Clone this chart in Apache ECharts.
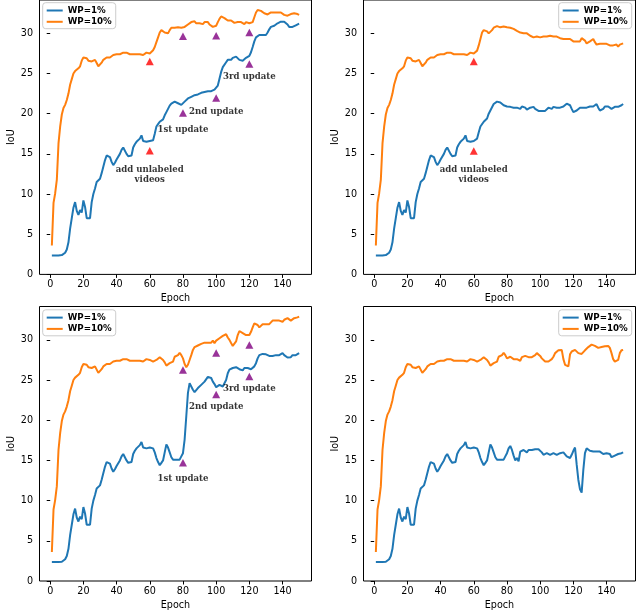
<!DOCTYPE html>
<html><head><meta charset="utf-8">
<script src="https://cdn.jsdelivr.net/npm/echarts@6/dist/echarts.min.js"></script>
<style>html,body{margin:0;padding:0;background:#fff}#c{width:640px;height:613px}</style>
</head><body><div id="c"></div>
<script>
const seriesNames = ['WP=1%', 'WP=10%'];
const xTicks = [0, 20, 40, 60, 80, 100, 120, 140];
const yTicks = [0, 5, 10, 15, 20, 25, 30];

// shared run, epochs 1..80
const blueBase = [2.35,2.35,2.35,2.35,2.35,2.35,2.4,2.5,2.7,3.1,
  4.0,5.7,7.0,8.3,9.0,7.9,7.4,8.0,7.7,9.2,
  8.4,7.0,6.9,7.0,9.0,10.0,10.7,11.5,11.3,11.9,
  12.6,12.7,14.2,14.8,14.8,14.6,14.0,13.6,13.9,14.3,
  14.5,15.0,15.5,15.8,15.7,15.0,14.7,14.6,14.8,15.8,
  16.2,16.5,16.6,16.9,17.3,16.6,16.7,16.5,16.4,16.6,
  16.7,16.5,16.0,15.3,14.8,14.4,14.7,15.0,16.0,17.0,
  16.6,16.0,15.4,15.1,15.0,15.1,14.9,15.1,15.5,15.9];
const orangeBase = [3.6,8.9,10.1,11.8,16.3,18.4,19.9,20.7,21.1,21.7,
  22.5,23.6,24.3,25.0,25.3,25.5,25.65,25.9,26.6,27.0,
  27.1,26.9,26.6,26.4,26.5,26.5,26.7,26.3,25.9,26.0,
  26.35,26.7,26.9,27.0,27.1,27.0,27.2,27.3,27.2,27.4,
  27.2,27.4,27.5,27.6,27.6,27.6,27.5,27.4,27.2,27.4,
  27.5,27.4,27.6,27.4,27.2,27.3,27.4,27.6,27.4,27.5,
  27.5,27.3,27.4,27.5,27.7,27.85,27.7,27.5,27.2,26.8,
  26.9,27.1,27.2,27.3,27.9,27.9,28.1,28.4,28.1,27.7];

// top-left, epochs 61..150
const tlBlueTail = [16.5,16.7,17.5,18.4,18.7,19.0,19.2,19.3,19.8,20.2,
  20.6,21.0,21.25,21.4,21.5,21.5,21.3,21.2,21.1,21.2,
  21.5,21.7,21.9,22.1,22.1,22.2,22.3,22.4,22.4,22.5,
  22.6,22.65,22.7,22.8,22.8,22.65,22.8,22.9,23.0,23.1,
  23.5,24.35,25.2,25.8,26.0,26.4,26.7,26.6,26.7,26.95,
  27.1,27.1,26.95,26.7,26.5,26.6,26.8,26.95,27.1,27.2,
  27.65,28.3,29.0,29.5,29.7,29.8,29.8,29.8,29.7,29.8,
  30.1,30.5,30.8,30.8,30.95,31.1,31.25,31.4,31.45,31.5,
  31.45,31.4,31.1,30.8,30.7,30.8,30.95,31.0,30.95,31.2];
const tlOrangeTail = [27.4,27.9,28.3,28.9,29.5,30.1,30.4,30.4,30.1,29.9,
  30.0,30.4,30.7,30.8,30.7,30.7,30.75,30.7,30.7,30.75,
  30.8,30.95,31.1,31.15,31.4,31.6,31.5,31.25,31.15,31.25,
  31.3,31.15,31.4,31.5,31.4,31.1,30.95,30.8,30.75,30.95,
  31.4,31.8,32.1,32.0,31.9,31.8,31.6,31.5,31.6,31.4,
  31.3,31.25,31.4,31.25,31.4,31.25,31.15,31.4,31.5,31.25,
  31.25,31.4,32.0,32.6,32.9,32.95,32.8,32.6,32.5,32.4,
  32.35,32.5,32.6,32.7,32.6,32.5,32.6,32.7,32.6,32.4,
  32.3,32.2,32.2,32.3,32.4,32.5,32.5,32.5,32.4,32.3];

// top-right, epochs 61..150
const trBlueTail = [16.5,16.9,17.7,18.4,18.6,19.0,19.2,19.4,20.0,20.4,
  20.8,21.2,21.3,21.5,21.5,21.4,21.2,21.05,21.05,20.9,
  20.9,20.85,20.9,20.75,20.9,20.75,20.6,20.6,20.9,20.9,
  20.75,20.5,20.6,20.75,20.9,20.85,20.6,20.4,20.35,20.35,
  20.35,20.3,20.35,20.4,20.75,20.75,20.6,20.85,20.85,20.75,
  20.9,20.75,20.85,20.9,21.05,21.25,21.3,21.05,20.6,20.2,
  20.1,20.4,20.6,20.75,20.6,20.75,20.6,20.75,20.85,20.9,
  21.05,20.9,21.05,21.2,20.75,20.4,20.2,20.6,20.9,20.75,
  20.9,21.05,20.6,20.75,20.85,20.9,20.85,20.9,21.05,21.2];
const trOrangeTail = [27.5,27.85,28.5,29.3,30.1,30.4,30.5,30.25,30.0,30.1,
  30.4,30.7,30.9,30.9,30.85,30.75,30.75,30.85,30.75,30.75,
  30.7,30.7,30.55,30.55,30.4,30.3,30.25,30.1,30.0,30.0,
  29.9,30.0,29.85,29.7,29.5,29.5,29.6,29.6,29.5,29.5,
  29.6,29.6,29.5,29.6,29.7,29.7,29.65,29.6,29.5,29.6,
  29.5,29.4,29.3,29.3,29.4,29.3,29.2,29.3,29.1,29.0,
  28.9,29.0,29.2,29.0,29.4,29.5,29.1,28.75,28.75,29.0,
  29.2,29.3,28.9,28.6,28.6,28.7,28.75,28.7,28.6,28.7,
  28.6,28.5,28.6,28.5,28.5,28.6,28.35,28.6,28.5,28.75];

// bottom-left, epochs 81..150
const blBlueTail = [17.6,20.5,23.4,24.6,24.4,23.8,23.5,23.6,24.0,24.2,
  24.4,24.6,24.8,24.95,25.4,25.45,25.25,24.8,24.5,24.1,
  24.2,24.4,24.5,24.2,24.6,25.0,25.85,26.3,26.35,26.5,
  26.5,26.6,26.5,26.35,26.2,26.2,26.5,26.6,26.5,26.55,
  26.35,26.3,26.7,27.1,27.7,28.1,28.2,28.25,28.25,28.2,
  28.25,28.0,28.1,28.0,28.1,28.1,28.2,28.1,28.2,28.35,
  28.1,27.9,27.8,27.6,27.85,28.1,28.2,28.1,28.25,28.35];
const blOrangeTail = [27.0,26.6,26.9,27.5,28.1,28.75,29.1,29.2,29.3,29.4,
  29.5,29.6,29.65,29.8,29.65,29.5,29.65,29.9,29.6,29.9,
  30.0,30.2,30.4,30.5,30.6,30.7,30.3,30.0,29.6,29.25,
  29.1,29.8,30.6,31.1,31.1,30.85,30.85,30.6,30.4,30.6,
  31.0,31.55,32.05,32.1,31.85,31.55,31.6,31.95,31.85,31.95,
  32.1,31.95,32.05,32.4,32.5,32.4,32.25,32.4,32.4,32.25,
  32.5,32.55,32.7,32.5,32.4,32.55,32.7,32.7,32.8,32.9];

// bottom-right, epochs 81..150
const brBlueTail = [16.5,16.8,16.3,15.6,15.0,15.3,14.9,16.1,16.2,16.3,
  16.4,16.0,16.3,16.1,16.3,16.3,16.4,16.6,16.4,16.3,
  16.0,15.7,15.8,15.9,16.0,15.7,15.6,15.9,15.7,15.7,
  15.9,15.9,15.8,16.0,15.8,15.5,15.3,15.3,15.7,16.2,
  16.6,14.5,12.6,11.4,11.0,13.8,15.9,16.5,16.4,16.2,
  16.1,16.1,15.9,16.1,16.2,16.1,16.0,15.8,15.9,15.9,
  15.9,15.8,15.4,15.5,15.6,15.7,15.8,15.9,15.9,16.0];
const brOrangeTail = [27.6,27.9,27.85,27.6,27.4,27.6,27.7,27.4,27.85,28.0,
  28.0,27.9,27.85,27.7,27.85,28.0,28.1,28.35,28.35,28.0,
  27.7,27.5,27.3,27.2,27.3,27.5,27.6,27.9,28.35,28.55,
  28.7,28.75,28.75,27.6,26.9,26.8,26.7,28.2,28.55,28.45,
  28.75,28.55,28.35,28.35,28.25,28.4,28.7,28.85,29.1,29.25,
  29.4,29.25,29.25,29.2,29.0,29.0,29.1,29.0,29.2,29.4,
  29.25,29.0,28.35,27.6,27.3,27.3,27.5,28.35,28.7,28.75];

// markers [epoch, IoU]
const tlRed = [[60,15.4],[60,26.5]];
const tlPurple = [[80,20.1],[80,29.65],[100,21.95],[100,29.7],[120,26.2],[120,30.1]];
const trRed = [[60,15.35],[60,26.5]];
const blPurple = [[80,14.7],[80,26.25],[100,23.2],[100,28.35],[120,25.45],[120,29.35]];
// annotations [epoch, IoU, text]
const tlNotes = [[60,12.45,'add unlabeled\nvideos'],[80,18.0,'1st update'],[100,20.3,'2nd update'],[120,24.65,'3rd update']];
const trNotes = [[60,12.45,'add unlabeled\nvideos']];
const blNotes = [[80,12.7,'1st update'],[100,21.7,'2nd update'],[120,23.95,'3rd update']];

function pairs(arr, start) { return arr.map((v, i) => [start + i, v]); }

const panels = [
  { grid: {left: 39.5, top: -0.6, width: 272, height: 275}, legend: {left: 42.7, top: 2.7},
    blue: pairs(blueBase.slice(0, 60), 1).concat(pairs(tlBlueTail, 61)),
    orange: pairs(orangeBase.slice(0, 60), 1).concat(pairs(tlOrangeTail, 61)),
    red: tlRed, purple: tlPurple, notes: tlNotes },
  { grid: {left: 363.5, top: -0.6, width: 272, height: 275}, legend: {right: 8.3, top: 2.7},
    blue: pairs(blueBase.slice(0, 60), 1).concat(pairs(trBlueTail, 61)),
    orange: pairs(orangeBase.slice(0, 60), 1).concat(pairs(trOrangeTail, 61)),
    red: trRed, purple: [], notes: trNotes },
  { grid: {left: 39.5, top: 306.5, width: 272, height: 274.5}, legend: {left: 42.7, top: 309.8},
    blue: pairs(blueBase, 1).concat(pairs(blBlueTail, 81)),
    orange: pairs(orangeBase, 1).concat(pairs(blOrangeTail, 81)),
    red: [], purple: blPurple, notes: blNotes },
  { grid: {left: 363.5, top: 306.5, width: 272, height: 274.5}, legend: {right: 8.3, top: 309.8},
    blue: pairs(blueBase, 1).concat(pairs(brBlueTail, 81)),
    orange: pairs(orangeBase, 1).concat(pairs(brOrangeTail, 81)),
    red: [], purple: [], notes: [] }
];

const BLUE = '#1f77b4', ORANGE = '#ff7f0e';
const tickFont = {fontFamily: 'DejaVu Sans', fontSize: 9.6, color: '#000'};
const option = {animation: false, backgroundColor: '#fff', grid: [], xAxis: [], yAxis: [], legend: [], series: []};

panels.forEach((p, k) => {
  option.grid.push(Object.assign({show: true, borderColor: '#000', borderWidth: 1, backgroundColor: 'transparent'}, p.grid));
  option.xAxis.push({
    type: 'value', gridIndex: k, min: -6.45, max: 157.45,
    name: 'Epoch', nameLocation: 'middle', nameGap: 19,
    nameTextStyle: tickFont,
    axisLine: {show: false}, splitLine: {show: false},
    axisTick: {show: true, length: 3.5, lineStyle: {color: '#000'}, customValues: xTicks},
    axisLabel: Object.assign({margin: 5.5, customValues: xTicks}, tickFont)
  });
  option.yAxis.push({
    type: 'value', gridIndex: k, min: 0, max: 34.15,
    name: 'IoU', nameLocation: 'middle', nameGap: 18,
    nameTextStyle: tickFont,
    axisLine: {show: false}, splitLine: {show: false},
    axisTick: {show: true, length: 3.5, lineStyle: {color: '#000'}, customValues: yTicks},
    axisLabel: Object.assign({margin: 6.5, customValues: yTicks}, tickFont)
  });
  option.legend.push(Object.assign({
    data: seriesNames.map(n => ({name: n, icon: 'path://M0,0H16V2H0Z'})),
    orient: 'vertical', itemWidth: 16, itemHeight: 10, itemGap: 2.3,
    padding: [3.3, 4, 2.4, 4], backgroundColor: 'rgba(255,255,255,0.8)',
    borderColor: '#cccccc', borderWidth: 1, borderRadius: 3,
    selectedMode: false,
    textStyle: {fontFamily: 'DejaVu Sans', fontWeight: 'bold', fontSize: 8.7, color: '#000'}
  }, p.legend));
  option.series.push({
    type: 'line', name: seriesNames[0], xAxisIndex: k, yAxisIndex: k, data: p.blue,
    symbol: 'none', color: BLUE, lineStyle: {width: 2, color: BLUE}, silent: true, z: 2
  });
  option.series.push({
    type: 'line', name: seriesNames[1], xAxisIndex: k, yAxisIndex: k, data: p.orange,
    symbol: 'none', color: ORANGE, lineStyle: {width: 2, color: ORANGE}, silent: true, z: 2
  });
  if (p.red.length) option.series.push({
    type: 'scatter', name: 'start', xAxisIndex: k, yAxisIndex: k, data: p.red,
    symbol: 'triangle', symbolSize: [8, 7.5], itemStyle: {color: '#ff0000'}, silent: true, z: 4
  });
  if (p.purple.length) option.series.push({
    type: 'scatter', name: 'update', xAxisIndex: k, yAxisIndex: k, data: p.purple,
    symbol: 'triangle', symbolSize: [8, 7.5], itemStyle: {color: '#800080'}, silent: true, z: 4
  });
  if (p.notes.length) option.series.push({
    type: 'scatter', name: 'notes', xAxisIndex: k, yAxisIndex: k,
    data: p.notes.map(n => ({value: [n[0], n[1]], name: n[2]})),
    symbolSize: 1, itemStyle: {color: 'transparent'}, silent: true, z: 5,
    label: {show: true, position: 'inside', formatter: '{b}', align: 'center', verticalAlign: 'middle',
      fontFamily: 'DejaVu Serif', fontWeight: 'bold', fontSize: 8.6, lineHeight: 10, color: '#000'}
  });
});

const chart = echarts.init(document.getElementById('c'), null, {renderer: 'canvas'});
chart.setOption(option);
</script>
</body></html>
